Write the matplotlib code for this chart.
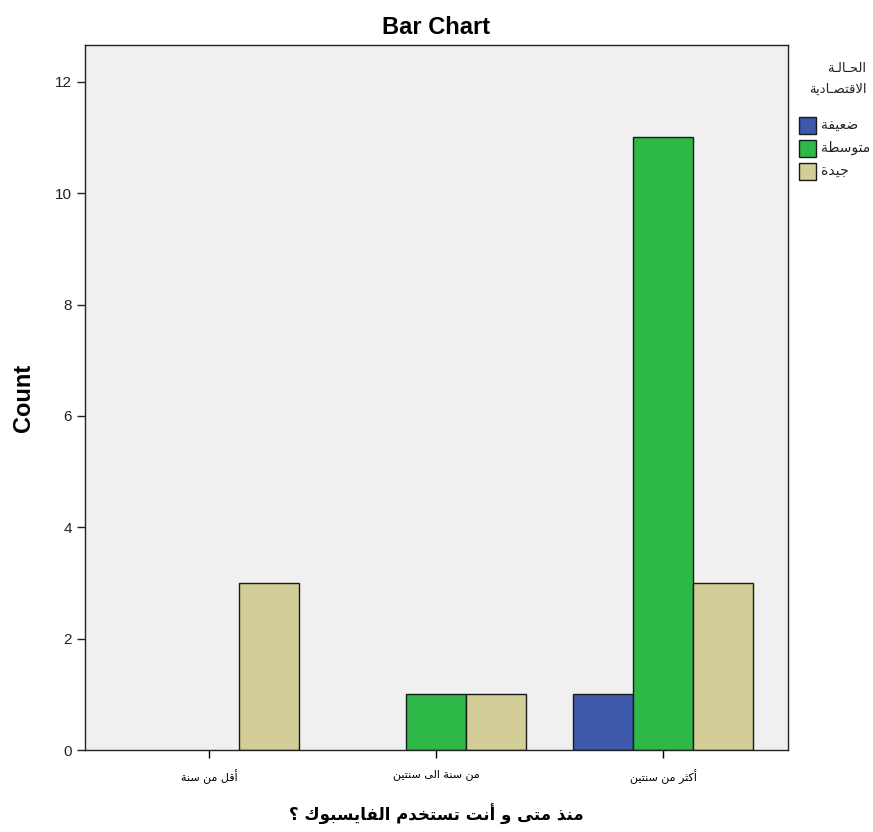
import numpy as np
import matplotlib
matplotlib.use('Agg')
import matplotlib.pyplot as plt
from matplotlib.patches import Rectangle

plt.rcParams['font.family'] = ['Liberation Sans', 'DejaVu Sans']

# data
categories = ['أقل من سنة', 'من سنة الى سنتين', 'أكثر من سنتين']
groups = ['ضعيفة', 'متوسطة', 'جيدة']
weak = [0, 0, 1]
medium = [0, 1, 11]
good = [3, 1, 3]
colors = ['#3E58AC', '#2EB848', '#D3CE97']
legend_title = ['الحـالـة', 'الاقتصـادية']
xlabel = 'منذ متى و أنت تستخدم الفايسبوك ؟'

# small arabic shaper: (isolated, final, initial, medial)
forms = {
    'ا': (0xFE8D, 0xFE8E, None, None), 'أ': (0xFE83, 0xFE84, None, None),
    'ب': (0xFE8F, 0xFE90, 0xFE91, 0xFE92), 'ة': (0xFE93, 0xFE94, None, None),
    'ت': (0xFE95, 0xFE96, 0xFE97, 0xFE98), 'ث': (0xFE99, 0xFE9A, 0xFE9B, 0xFE9C),
    'ج': (0xFE9D, 0xFE9E, 0xFE9F, 0xFEA0),
    'ح': (0xFEA1, 0xFEA2, 0xFEA3, 0xFEA4), 'خ': (0xFEA5, 0xFEA6, 0xFEA7, 0xFEA8),
    'د': (0xFEA9, 0xFEAA, None, None), 'ذ': (0xFEAB, 0xFEAC, None, None),
    'ر': (0xFEAD, 0xFEAE, None, None), 'س': (0xFEB1, 0xFEB2, 0xFEB3, 0xFEB4),
    'ص': (0xFEB9, 0xFEBA, 0xFEBB, 0xFEBC), 'ض': (0xFEBD, 0xFEBE, 0xFEBF, 0xFEC0),
    'ط': (0xFEC1, 0xFEC2, 0xFEC3, 0xFEC4), 'ع': (0xFEC9, 0xFECA, 0xFECB, 0xFECC),
    'ف': (0xFED1, 0xFED2, 0xFED3, 0xFED4), 'ق': (0xFED5, 0xFED6, 0xFED7, 0xFED8),
    'ك': (0xFED9, 0xFEDA, 0xFEDB, 0xFEDC), 'ل': (0xFEDD, 0xFEDE, 0xFEDF, 0xFEE0),
    'م': (0xFEE1, 0xFEE2, 0xFEE3, 0xFEE4), 'ن': (0xFEE5, 0xFEE6, 0xFEE7, 0xFEE8),
    'و': (0xFEED, 0xFEEE, None, None), 'ى': (0xFEEF, 0xFEF0, None, None),
    'ي': (0xFEF1, 0xFEF2, 0xFEF3, 0xFEF4),
    'ـ': (0x0640, 0x0640, 0x0640, 0x0640),  # tatweel
}
lamalef = {'ا': (0xFEFB, 0xFEFC), 'أ': (0xFEF7, 0xFEF8)}


def shape(line):
    # merge lam + alef first
    units = []
    i = 0
    while i < len(line):
        c = line[i]
        if c == 'ل' and i + 1 < len(line) and line[i + 1] in lamalef:
            units.append(('LA', line[i + 1]))
            i += 2
        else:
            units.append(('C', c))
            i += 1

    def dual(u):
        return u[0] == 'C' and u[1] in forms and forms[u[1]][2] is not None

    def arabic(u):
        return u[0] == 'LA' or u[1] in forms

    out = []
    for k, u in enumerate(units):
        prev_j = k > 0 and dual(units[k - 1])
        if u[0] == 'LA':
            out.append(chr(lamalef[u[1]][1 if prev_j else 0]))
            continue
        c = u[1]
        if c not in forms:
            out.append(c)
            continue
        next_j = dual(u) and k + 1 < len(units) and arabic(units[k + 1])
        f = forms[c]
        if prev_j and next_j:
            g = f[3]
        elif prev_j:
            g = f[1]
        elif next_j:
            g = f[2]
        else:
            g = f[0]
        out.append(chr(g))
    return ''.join(out)[::-1]


fig = plt.figure(figsize=(8.73, 8.32), dpi=100)
ax = fig.add_axes([85 / 873, 82 / 832, 703 / 873, 705 / 832])
ax.set_facecolor('#F0F0F0')

x = np.arange(len(categories))
w = 0.264
for j, vals in enumerate([weak, medium, good]):
    lw = [1.0 if v > 0 else 0 for v in vals]
    ax.bar(x + (j - 1) * w, vals, width=w, color=colors[j],
           edgecolor='#1a1a1a', linewidth=lw, zorder=2)

ax.set_xlim(-0.546, 2.55)
ax.set_ylim(0, 12.66)
ax.set_yticks(range(0, 13, 2))
ax.set_xticks(x)
ax.set_xticklabels([shape(c) for c in categories], fontsize=8,
                   family=['DejaVu Sans'])
ax.tick_params(axis='y', labelsize=11, length=6, width=1, direction='out',
               colors='#222222')
ax.tick_params(axis='x', length=6, width=1, direction='out', pad=8)
for s in ax.spines.values():
    s.set_color('#222222')
    s.set_linewidth(1)

ax.set_ylabel('Count', fontsize=17, fontweight='bold', labelpad=14)
ax.set_xlabel(shape(xlabel), fontsize=12, fontweight='bold',
              family=['DejaVu Sans'], labelpad=14)
ax.set_title('Bar Chart', fontsize=17, fontweight='bold', pad=8)

# legend, laid out like the SPSS one
H = 832.0
W = 873.0
fig.text(866 / W, 1 - 68 / H, shape(legend_title[0]), ha='right', va='center',
         fontsize=9.5, family=['DejaVu Sans'], color='#222222')
fig.text(867 / W, 1 - 89 / H, shape(legend_title[1]), ha='right', va='center',
         fontsize=9.5, family=['DejaVu Sans'], color='#222222')
for j in range(3):
    yc = 125 + j * 23
    fig.patches.append(Rectangle((799 / W, 1 - (yc + 8.5) / H), 17 / W, 17 / H,
                                 transform=fig.transFigure, facecolor=colors[j],
                                 edgecolor='#1a1a1a', linewidth=1.0))
    fig.text(821 / W, 1 - yc / H, shape(groups[j]), ha='left', va='center',
             fontsize=10, family=['DejaVu Sans'], color='#222222')

fig.savefig('out.png', dpi=100, facecolor='white')
